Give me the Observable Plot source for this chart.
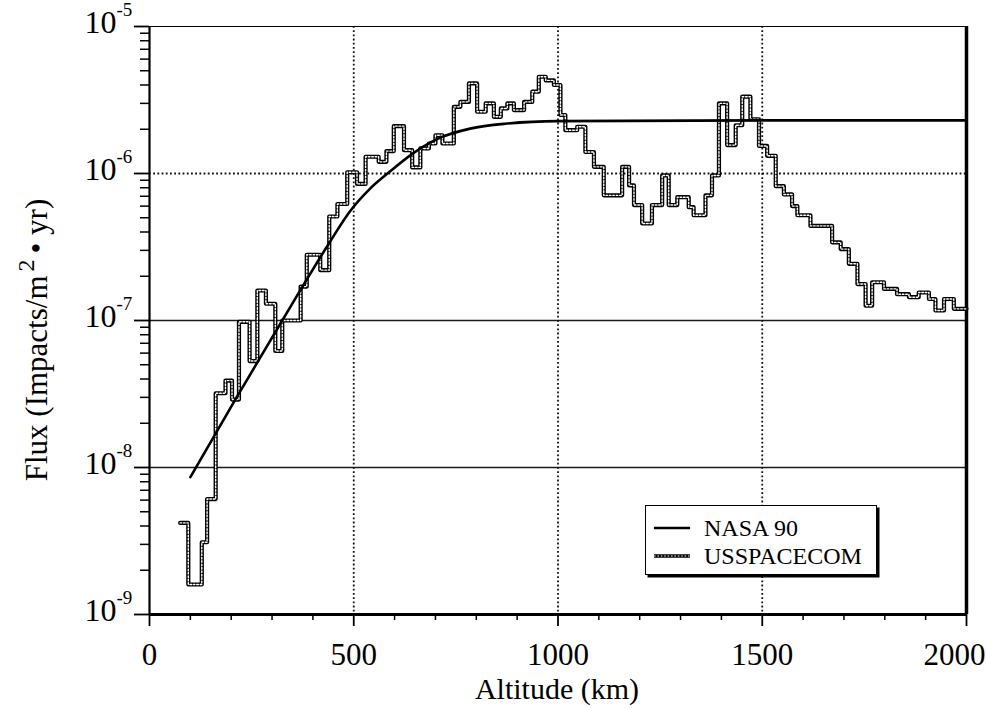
<!DOCTYPE html>
<html>
<head>
<meta charset="utf-8">
<script src="https://cdn.jsdelivr.net/npm/d3@7"></script>
<script src="https://cdn.jsdelivr.net/npm/@observablehq/plot@0.6"></script>
<style>
  html, body { margin: 0; padding: 0; background: #fff; }
  #wrap { position: relative; width: 986px; height: 709px; overflow: hidden; }
  #legend {
    position: absolute; left: 645px; top: 505px; width: 232px; height: 70px;
    border: 1.5px solid #000; box-shadow: 2.5px 2.5px 0 #000; background: #fff;
    font-family: "Liberation Serif", serif; font-size: 24px; color: #000; box-sizing: border-box;
  }
  .row { position: absolute; left: 8px; height: 28px; display: flex; align-items: center; }
  .row span { margin-left: 14px; }
</style>
</head>
<body>
<div id="wrap"></div>
<script>
// ---- data ----
const ussAlt = [75, 95, 128, 141, 162, 186, 202, 219, 245, 264, 285, 308, 325, 370, 385, 418, 440, 460, 484, 508, 529, 561, 580, 598, 623, 643, 663, 684, 700, 717, 745, 761, 782, 802, 823, 843, 860, 876, 892, 917, 937, 953, 970, 990, 1006, 1018, 1047, 1067, 1088, 1112, 1157, 1174, 1186, 1206, 1230, 1255, 1271, 1292, 1320, 1332, 1361, 1377, 1394, 1414, 1435, 1451, 1471, 1492, 1512, 1533, 1553, 1573, 1586, 1618, 1671, 1692, 1712, 1733, 1753, 1769, 1798, 1830, 1859, 1883, 1908, 1924, 1945, 1969, 2000];
const ussFlux = [4.2e-9, 1.6e-9, 3.1e-9, 6.1e-9, 3.2e-8, 3.9e-8, 2.9e-8, 9.8e-8, 5.3e-8, 1.6e-7, 1.3e-7, 6.2e-8, 1.0e-7, 1.7e-7, 2.8e-7, 2.2e-7, 5.1e-7, 6.2e-7, 1.02e-6, 8.5e-7, 1.3e-6, 1.2e-6, 1.42e-6, 2.1e-6, 1.44e-6, 1.1e-6, 1.48e-6, 1.6e-6, 1.82e-6, 1.6e-6, 2.84e-6, 3.07e-6, 4.1e-6, 2.63e-6, 3.0e-6, 2.43e-6, 2.77e-6, 3.0e-6, 2.7e-6, 3.07e-6, 3.6e-6, 4.55e-6, 4.3e-6, 4.0e-6, 2.5e-6, 1.97e-6, 2.08e-6, 1.4e-6, 1.11e-6, 7.1e-7, 1.11e-6, 8.3e-7, 6.1e-7, 4.57e-7, 6.1e-7, 9.7e-7, 6.1e-7, 6.9e-7, 5.9e-7, 5.2e-7, 7.1e-7, 9.7e-7, 3.0e-6, 1.56e-6, 2.13e-6, 3.33e-6, 2.34e-6, 1.54e-6, 1.32e-6, 8.2e-7, 7.2e-7, 6.0e-7, 5.2e-7, 4.4e-7, 3.4e-7, 3.06e-7, 2.43e-7, 1.77e-7, 1.26e-7, 1.82e-7, 1.64e-7, 1.51e-7, 1.44e-7, 1.55e-7, 1.4e-7, 1.17e-7, 1.4e-7, 1.2e-7, 1.2e-7];

const nasaAlt  = [100, 210, 325, 435, 490, 540, 590, 640, 705, 785, 870, 1000, 1500, 1995];
const nasaFlux = [8.6e-9, 2.9e-8, 1.0e-7, 3.2e-7, 5.5e-7, 7.9e-7, 1.04e-6, 1.34e-6, 1.72e-6, 2.02e-6, 2.18e-6, 2.27e-6, 2.3e-6, 2.3e-6];

const xTicks = [0, 500, 1000, 1500, 2000];
const xMinorTicks = [100, 200, 300, 400, 600, 700, 800, 900, 1100, 1200, 1300, 1400, 1600, 1700, 1800, 1900];
const yExponents = [-9, -8, -7, -6, -5];
const solidGrid = [1e-7, 1e-8];
const dottedGridY = [1e-6];
const dottedGridX = [500, 1000, 1500];
const seriesNames = ["NASA 90", "USSPACECOM"];
const xLabel = "Altitude (km)";

// ---- derived tables ----
const uss = ussAlt.map((a, i) => ({alt: a, flux: ussFlux[i]}));
const nasa = nasaAlt.map((a, i) => ({alt: a, flux: nasaFlux[i]}));
const yMajor = yExponents.map(e => Math.pow(10, e));
const yMinor = [];
for (const e of yExponents.slice(0, -1)) for (let m = 2; m <= 9; m++) yMinor.push(m * Math.pow(10, e));
const xTickLabels = xTicks.slice(0, -1);
const xLastLabel = xTicks.slice(-1);

const font = "Liberation Serif, Times New Roman, serif";

const chart = Plot.plot({
  width: 986, height: 709,
  marginLeft: 149, marginRight: 20, marginTop: 26, marginBottom: 95,
  style: {fontFamily: font, background: "#fff", color: "#000", overflow: "visible"},
  x: {domain: [0, 2000]},
  y: {type: "log", domain: [1e-9, 1e-5]},
  marks: [
    // grid
    Plot.ruleY(solidGrid, {stroke: "#1a1a1a", strokeWidth: 1.3}),
    Plot.ruleY(dottedGridY, {stroke: "#111", strokeWidth: 1.8, strokeDasharray: "1.8,2.4"}),
    Plot.ruleX(dottedGridX, {stroke: "#111", strokeWidth: 1.8, strokeDasharray: "1.8,2.4"}),
    // frame
    Plot.ruleY([1e-5], {stroke: "#000", strokeWidth: 1}),
    Plot.ruleX([2000], {stroke: "#000", strokeWidth: 3.5}),
    Plot.ruleX([0], {stroke: "#000", strokeWidth: 2.2}),
    Plot.ruleY([1e-9], {stroke: "#000", strokeWidth: 3}),
    // axes ticks
    Plot.axisY({ticks: yMinor, tickSize: 9, tickFormat: () => "", label: null, strokeWidth: 1.5}),
    Plot.axisY({ticks: yMajor, tickSize: 15, tickFormat: () => "", label: null, strokeWidth: 1.8}),
    Plot.axisX({ticks: xMinorTicks, tickSize: 6, tickFormat: () => "", label: null, strokeWidth: 1.5}),
    Plot.axisX({ticks: xTicks, tickSize: 12, tickFormat: () => "", label: null, strokeWidth: 1.8}),
    // tick labels
    Plot.text(yExponents, {x: () => 0, y: e => Math.pow(10, e), text: () => "10", textAnchor: "end", dx: -33, dy: -4, fontSize: 32, lineAnchor: "middle", fill: "#000"}),
    Plot.text(yExponents, {x: () => 0, y: e => Math.pow(10, e), text: e => String(e), textAnchor: "start", dx: -33, dy: -17, fontSize: 19, lineAnchor: "middle", fill: "#000"}),
    Plot.text(xTickLabels, {x: d => d, y: () => 1e-9, text: d => String(d), dy: 41, fontSize: 31, lineAnchor: "middle", fill: "#000"}),
    Plot.text(xLastLabel, {x: d => d, y: () => 1e-9, text: d => String(d), dy: 41, dx: 19, textAnchor: "end", fontSize: 31, lineAnchor: "middle", fill: "#000"}),
    // series
    Plot.line(uss, {x: "alt", y: "flux", curve: "step-after", stroke: "#000", strokeWidth: 4.2}),
    Plot.line(uss, {x: "alt", y: "flux", curve: "step-after", stroke: "#fff", strokeWidth: 1.4, strokeDasharray: "1.6,1.8"}),
    Plot.line(nasa, {x: "alt", y: "flux", curve: "monotone-x", stroke: "#000", strokeWidth: 2.6})
  ]
});

const wrap = document.getElementById("wrap");
wrap.appendChild(chart);

// axis titles as SVG text
const svg = d3.select(chart);
svg.append("text")
  .attr("x", 557).attr("y", 692)
  .attr("text-anchor", "middle").attr("dominant-baseline", "middle")
  .attr("font-family", font).attr("font-size", 30).attr("fill", "#000")
  .text(xLabel);

const yl = svg.append("text")
  .attr("transform", "translate(40,340) rotate(-90)")
  .attr("text-anchor", "middle").attr("dominant-baseline", "middle")
  .attr("font-family", font).attr("font-size", 31).attr("fill", "#000");
yl.append("tspan").text("Flux (Impacts/m");
yl.append("tspan").attr("dy", -12).attr("font-size", 24).attr("dx", 4).text("2");
yl.append("tspan").attr("dy", 12).attr("dx", 6).text("\u2022 yr)");

// legend
const legend = document.createElement("div");
legend.id = "legend";
const rows = [
  {name: seriesNames[0], top: 8, svg: '<svg width="36" height="8"><line x1="0" y1="4" x2="36" y2="4" stroke="#000" stroke-width="2.6"/></svg>'},
  {name: seriesNames[1], top: 36, svg: '<svg width="36" height="8"><line x1="0" y1="4" x2="36" y2="4" stroke="#000" stroke-width="3.6"/><line x1="0" y1="4" x2="36" y2="4" stroke="#fff" stroke-width="1.2" stroke-dasharray="1.6,1.8"/></svg>'}
];
for (const r of rows) {
  const d = document.createElement("div");
  d.className = "row";
  d.style.top = r.top + "px";
  d.innerHTML = r.svg + "<span>" + r.name + "</span>";
  legend.appendChild(d);
}
wrap.appendChild(legend);
</script>
</body>
</html>
